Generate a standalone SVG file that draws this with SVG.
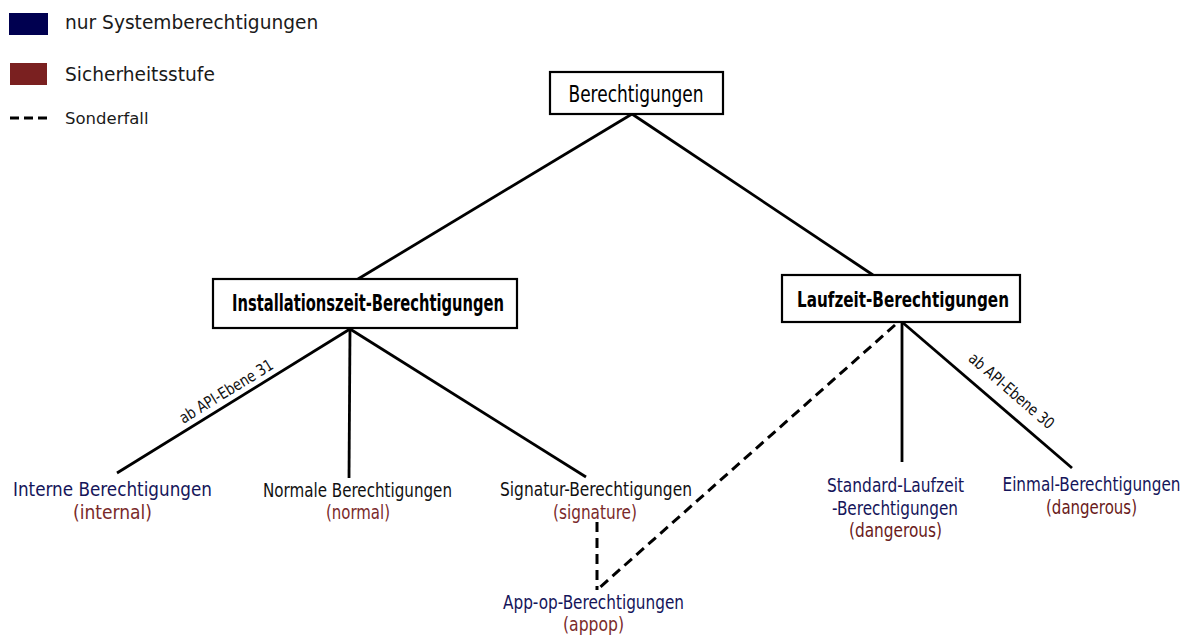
<svg xmlns="http://www.w3.org/2000/svg" width="1184" height="635" viewBox="0 0 1184 635">
  <style>
    .bg { fill: #ffffff; }
    .box { fill: #ffffff; stroke: #000000; stroke-width: 2.2; }
    .edge { fill: none; stroke: #000000; stroke-width: 2.8; }
    .special { fill: none; stroke: #000000; stroke-width: 3; stroke-dasharray: 10 6; }
    .legend { font-family: "DejaVu Sans", "Liberation Sans", sans-serif; font-size: 18.6px; fill: #1a1a1a; }
    .title { font-family: "DejaVu Sans Condensed", "DejaVu Sans", sans-serif; font-stretch: condensed; font-size: 22.5px; fill: #000000; text-anchor: middle; }
    .head { font-family: "DejaVu Sans Condensed", "DejaVu Sans", sans-serif; font-stretch: condensed; font-weight: bold; font-size: 22.5px; fill: #000000; text-anchor: middle; }
    .lbl { font-family: "DejaVu Sans Condensed", "DejaVu Sans", sans-serif; font-stretch: condensed; font-size: 19.5px; text-anchor: middle; }
    .sys { fill: #15155a; }
    .plain { fill: #111111; }
    .lvl { fill: #7a2a2a; }
    .dng { fill: #6a1a1a; }
    .api { font-family: "DejaVu Sans Condensed", "DejaVu Sans", sans-serif; font-stretch: condensed; font-size: 16px; fill: #111111; text-anchor: middle; }
  </style>

  <rect class="bg" x="0" y="0" width="1184" height="635"/>

  <!-- legend -->
  <g id="legend">
    <rect x="9" y="13" width="39" height="22" fill="#000050"/>
    <text class="legend" x="65" y="29">nur Systemberechtigungen</text>
    <rect x="10" y="63" width="37" height="22" fill="#7a2020"/>
    <text class="legend" x="65" y="81">Sicherheitsstufe</text>
    <line x1="10" y1="118" x2="47" y2="118" stroke="#000000" stroke-width="3" stroke-dasharray="9 5"/>
    <text class="legend" x="65" y="124" style="font-size:16.5px">Sonderfall</text>
  </g>

  <!-- connectors -->
  <g id="connectors">
    <line class="edge" x1="632" y1="114" x2="358" y2="279"/>
    <line class="edge" x1="632" y1="114" x2="873" y2="275"/>
    <line class="edge" x1="350" y1="329" x2="117" y2="473"/>
    <line class="edge" x1="350" y1="329" x2="349" y2="478"/>
    <line class="edge" x1="350" y1="329" x2="586" y2="477"/>
    <line class="edge" x1="902" y1="322" x2="902" y2="462"/>
    <line class="edge" x1="902" y1="322" x2="1072" y2="468"/>
    <line class="special" x1="895" y1="325" x2="598" y2="589"/>
    <line class="special" x1="597" y1="522" x2="597" y2="590"/>
    <text class="api" transform="translate(229,396) rotate(-31.5)" textLength="107" lengthAdjust="spacingAndGlyphs">ab API-Ebene 31</text>
    <text class="api" transform="translate(1008,395) rotate(40.8)" textLength="107" lengthAdjust="spacingAndGlyphs">ab API-Ebene 30</text>
  </g>

  <!-- root -->
  <g id="node-root">
    <rect class="box" x="550" y="72" width="173" height="42"/>
    <text class="title" x="636" y="101.5" textLength="135" lengthAdjust="spacingAndGlyphs">Berechtigungen</text>
  </g>

  <g id="node-install">
    <rect class="box" x="213" y="279" width="304" height="49"/>
    <text class="head" x="368" y="311" textLength="272" lengthAdjust="spacingAndGlyphs">Installationszeit-Berechtigungen</text>
  </g>

  <g id="node-runtime">
    <rect class="box" x="782" y="275" width="238" height="47"/>
    <text class="head" x="903" y="306.5" style="font-size:21.5px" textLength="212" lengthAdjust="spacingAndGlyphs">Laufzeit-Berechtigungen</text>
  </g>

  <g id="node-internal">
    <text class="lbl sys" x="112.5" y="496" textLength="199" lengthAdjust="spacingAndGlyphs">Interne Berechtigungen</text>
    <text class="lbl lvl" x="112.5" y="519" textLength="79" lengthAdjust="spacingAndGlyphs">(internal)</text>
  </g>

  <g id="node-normal">
    <text class="lbl plain" x="357.5" y="496.5" textLength="189" lengthAdjust="spacingAndGlyphs">Normale Berechtigungen</text>
    <text class="lbl lvl" x="358" y="519" textLength="64" lengthAdjust="spacingAndGlyphs">(normal)</text>
  </g>

  <g id="node-signature">
    <text class="lbl plain" x="596" y="496" textLength="192" lengthAdjust="spacingAndGlyphs">Signatur-Berechtigungen</text>
    <text class="lbl lvl" x="595" y="519" textLength="84" lengthAdjust="spacingAndGlyphs">(signature)</text>
  </g>

  <g id="node-appop">
    <text class="lbl sys" x="593.5" y="609" textLength="181" lengthAdjust="spacingAndGlyphs">App-op-Berechtigungen</text>
    <text class="lbl lvl" x="593.5" y="631" textLength="61" lengthAdjust="spacingAndGlyphs">(appop)</text>
  </g>

  <g id="node-standard">
    <text class="lbl sys" x="895.5" y="491.5" textLength="137" lengthAdjust="spacingAndGlyphs">Standard-Laufzeit</text>
    <text class="lbl sys" x="895" y="514.5" textLength="126" lengthAdjust="spacingAndGlyphs">-Berechtigungen</text>
    <text class="lbl dng" x="895.5" y="537" textLength="93" lengthAdjust="spacingAndGlyphs">(dangerous)</text>
  </g>

  <g id="node-once">
    <text class="lbl sys" x="1091.5" y="490.5" textLength="178" lengthAdjust="spacingAndGlyphs">Einmal-Berechtigungen</text>
    <text class="lbl dng" x="1091.5" y="514" textLength="91" lengthAdjust="spacingAndGlyphs">(dangerous)</text>
  </g>
</svg>
